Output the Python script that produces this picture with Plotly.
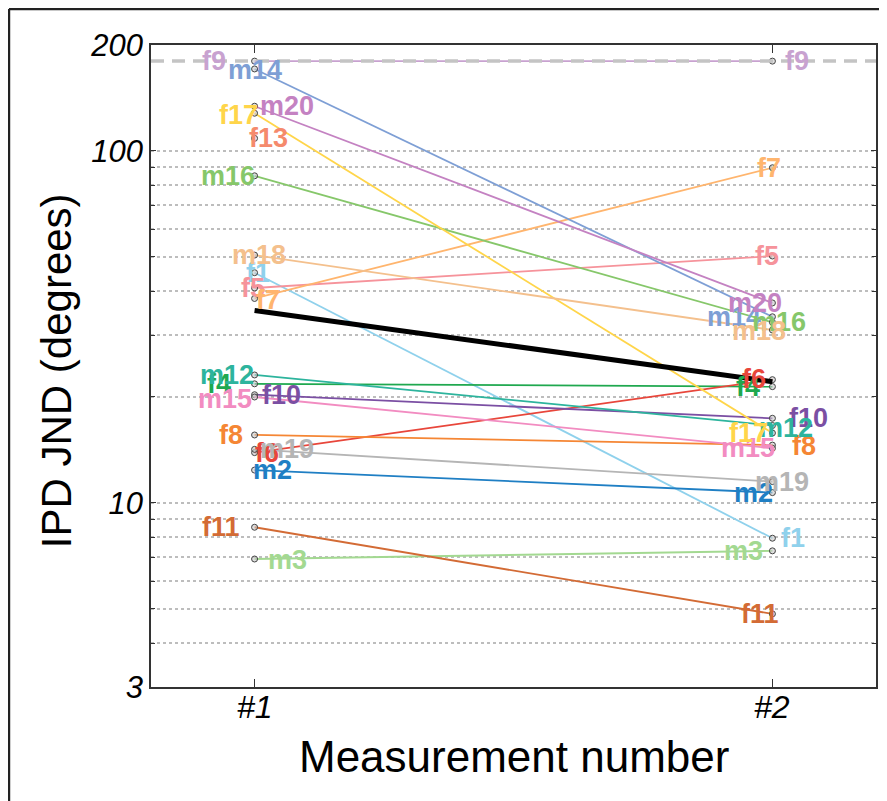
import numpy as np
import plotly.graph_objects as go

# ---------------- data ----------------
subjects = ["f1", "m2", "m3", "f4", "f5", "f6", "f7", "f8", "f9", "f10",
            "f11", "m12", "f13", "m14", "m15", "m16", "f17", "m18", "m19", "m20"]
jnd_meas1 = [45.1, 12.4, 6.93, 21.8, 40.8, 13.9, 38.1, 15.6, 180, 20.3,
             8.53, 23.1, 108.6, 171, 20.0, 85, 128, 50.6, 14.2, 134]
jnd_meas2 = [7.94, 10.7, 7.31, 21.4, 50.3, 22.4, 89.6, 14.6, 180, 17.4,
             4.84, 16.6, None, 33.8, 14.3, 32.6, 15.8, 31.0, 11.5, 37.0]
mean_jnd = [35.2, 22.1]
measurements = [1, 2]
tick_labels_x = ["#1", "#2"]
y_tickvals = [3, 10, 100, 200]
y_minor_vals = [4, 5, 6, 7, 8, 9, 20, 30, 40, 50, 60, 70, 80, 90]
reference_line = 180

# ---------------- styles ----------------
X_RANGE = [0.8, 2.2]
colors = {
    "f1": "#8fd1ec", "m2": "#1f7fc4", "m3": "#a3d991", "f4": "#1fa84f",
    "f5": "#f6939b", "f6": "#e8463b", "f7": "#ffb56e", "f8": "#f58634",
    "f9": "#c8a2d0", "f10": "#7b4fa3", "f11": "#d36b35", "m12": "#2db49d",
    "f13": "#f58a6c", "m14": "#7e9fd5", "m15": "#f28cc1", "m16": "#86c76a",
    "f17": "#ffd54a", "m18": "#f4c08d", "m19": "#b5b5b5", "m20": "#c482c2",
}
# label pixel offsets (dx, dy) relative to the point, for measurement 1 and 2
shift1 = {
    "f9": (-41, 0), "m14": (0, -1), "f17": (-16, -2), "m20": (32, 0),
    "f13": (14, 0), "m16": (-27, 0), "m18": (4, 0), "f1": (3, 0),
    "f5": (-2, 0), "f7": (13, -2), "m12": (-28, 0), "f4": (-36, 0),
    "m15": (-30, -2), "f10": (27, 0), "f8": (-24, 0), "f6": (12, 0),
    "m19": (32, 0), "m2": (18, 0), "f11": (-34, 0), "m3": (33, -1),
}
shift2 = {
    "f9": (25, 0), "f7": (-3, 0), "f5": (-5, 0), "m20": (-17, 0),
    "m14": (-38, 0), "m16": (7, 0), "m18": (-13, -1), "f6": (-18, 1),
    "f4": (-24, 0), "f10": (36, 0), "m12": (14, -3), "f17": (-24, 0),
    "f8": (32, -1), "m15": (-24, 0), "m19": (10, 0), "m2": (-19, 0),
    "f1": (21, 0), "m3": (-29, 0), "f11": (-12, 0),
}

FONT = "Arial, Liberation Sans, Helvetica, sans-serif"

fig = go.Figure()

for s, a, b in zip(subjects, jnd_meas1, jnd_meas2):
    fig.add_trace(go.Scatter(
        x=measurements, y=[a, b], mode="lines+markers", name=s,
        line=dict(color=colors[s], width=1.8),
        marker=dict(size=6, color="rgba(200,200,200,0.6)",
                    line=dict(color="#444", width=1)),
        showlegend=False, hoverinfo="name+y",
    ))

# 180-degree reference line (dashed, across the full x range)
fig.add_trace(go.Scatter(
    x=X_RANGE, y=[reference_line, reference_line], mode="lines",
    line=dict(color="#c4c4c4", width=3.5, dash="13px,8px"),
    showlegend=False, hoverinfo="skip", cliponaxis=False,
))

fig.add_trace(go.Scatter(
    x=measurements, y=mean_jnd, mode="lines", name="mean",
    line=dict(color="black", width=5), showlegend=False,
))

annotations = []
for s, a, b in zip(subjects, jnd_meas1, jnd_meas2):
    for xv, v, sh in ((measurements[0], a, shift1), (measurements[1], b, shift2)):
        if v is None or s not in sh:
            continue
        dx, dy = sh[s]
        annotations.append(dict(
            x=xv, y=np.log10(v), xref="x", yref="y", text=s, showarrow=False,
            xshift=dx, yshift=dy, xanchor="center", yanchor="middle",
            font=dict(family=FONT, size=27, color=colors[s], weight="bold"),
        ))

# x tick labels (placed as annotations for exact vertical position)
for xv, lab in zip(measurements, tick_labels_x):
    annotations.append(dict(
        x=xv, y=0, xref="x", yref="paper", text=lab, showarrow=False,
        yshift=-20, xanchor="center", yanchor="middle",
        font=dict(family=FONT, size=32, color="black", style="italic"),
    ))

# axis titles
annotations.append(dict(
    x=0.5, y=-0.109, xref="paper", yref="paper", text="Measurement number",
    showarrow=False, xanchor="center", yanchor="middle",
    font=dict(family=FONT, size=44, color="black"),
))
annotations.append(dict(
    x=-0.131, y=0.492, xref="paper", yref="paper", text="IPD JND (degrees)",
    showarrow=False, xanchor="center", yanchor="middle", textangle=-90,
    font=dict(family=FONT, size=42, color="black"),
))

shapes = [
    # outer frame (left + top edges)
    dict(type="line", xref="paper", yref="paper", x0=-0.1959, x1=-0.1959,
         y0=-0.2, y1=1.0561, line=dict(color="#222", width=2.5)),
    dict(type="line", xref="paper", yref="paper", x0=-0.1959, x1=1.03,
         y0=1.0561, y1=1.0561, line=dict(color="#222", width=2.5)),
]

fig.update_layout(
    width=879, height=793,
    margin=dict(l=143, r=11, t=37, b=114, autoexpand=False),
    paper_bgcolor="white", plot_bgcolor="white",
    annotations=annotations, shapes=shapes,
    font=dict(family=FONT, color="black"),
)

fig.update_xaxes(
    range=X_RANGE, tickvals=measurements, ticktext=tick_labels_x,
    showticklabels=False,
    ticks="inside", ticklen=8, tickcolor="#333", tickwidth=1.2,
    showline=True, mirror="ticks", linecolor="#333", linewidth=1.5,
    showgrid=False, zeroline=False, automargin=False,
)
fig.update_yaxes(
    type="log", range=[np.log10(3), np.log10(200)],
    tickvals=y_tickvals, ticktext=[str(v) for v in y_tickvals],
    ticks="inside", ticklen=5, tickcolor="#333", tickwidth=1.2,
    showline=True, mirror="ticks", linecolor="#333", linewidth=1.5,
    showgrid=True, gridcolor="#bdbdbd", gridwidth=2, griddash="3px,3px",
    zeroline=False, automargin=False,
    minor=dict(tickvals=y_minor_vals, ticks="inside", ticklen=4,
               tickcolor="#333", showgrid=True, gridcolor="#bdbdbd",
               gridwidth=2, griddash="3px,3px"),
    tickfont=dict(family=FONT, size=31, color="black", style="italic"),
)

fig.write_html("out.html")
